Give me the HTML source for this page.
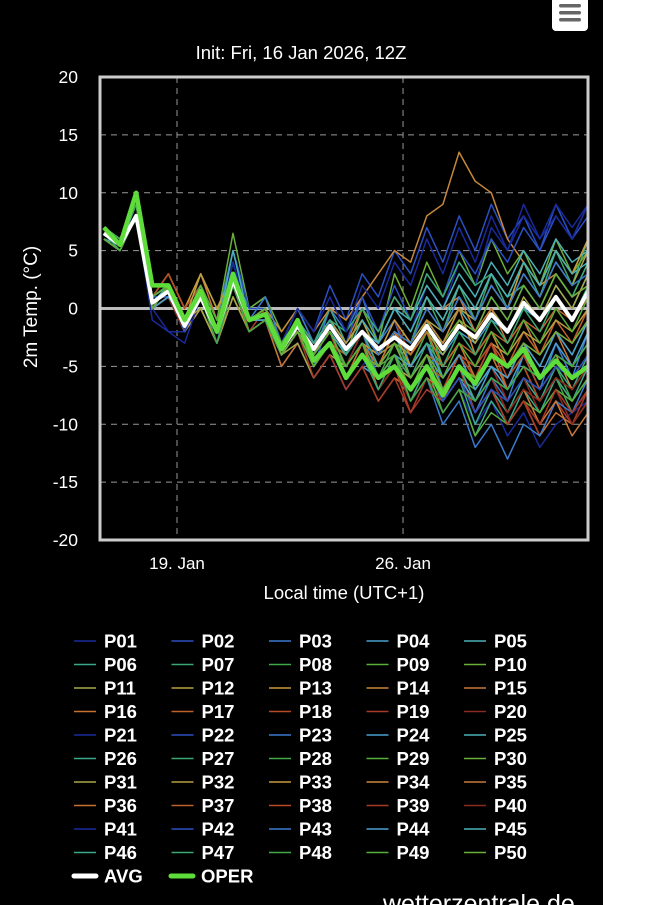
<!DOCTYPE html>
<html><head><meta charset="utf-8"><style>
html,body{margin:0;padding:0;background:#fff;}
body{width:648px;height:905px;overflow:hidden;position:relative;font-family:"Liberation Sans",sans-serif;}
#bg{position:absolute;left:0;top:0;width:603px;height:905px;background:#000;}
</style></head><body>
<div id="bg"></div>
<svg id="chart" width="648" height="905" style="position:absolute;left:0;top:0">
<g>
<rect x="552" y="-6" width="36" height="37" rx="4" fill="#fff"/>
<rect x="559" y="4" width="22" height="3.5" rx="1.7" fill="#666"/>
<rect x="559" y="11" width="22" height="3.5" rx="1.7" fill="#666"/>
<rect x="559" y="18" width="22" height="3.5" rx="1.7" fill="#666"/>
</g>
<text x="301" y="59" fill="#fff" font-size="18.5" text-anchor="middle">Init: Fri, 16 Jan 2026, 12Z</text>
<text transform="translate(37,307) rotate(-90)" fill="#fff" font-size="19" text-anchor="middle">2m Temp. (°C)</text>
<text x="344" y="599" fill="#fff" font-size="18.5" text-anchor="middle">Local time (UTC+1)</text>
<g id="grid"></g>
<g id="yticks"></g>
<g id="xticks"></g>
<defs><clipPath id="clip"><rect x="100" y="77" width="488" height="463"/></clipPath></defs>
<g id="series" clip-path="url(#clip)"></g>
<rect x="100" y="77" width="488" height="463" fill="none" stroke="#ccc" stroke-width="3"/>
<g id="legend"></g>
<text x="383" y="912" fill="#fff" font-size="25">wetterzentrale.de</text>
</svg>
<script>
const yTicks=[20,15,10,5,0,-5,-10,-15,-20];
const xTickDays=[3.125,10.125];
const xTickLabels=["19. Jan","26. Jan"];
const avg=[6.5,5.5,8,0.5,1.5,-1.5,1,-2,2.5,-1,-0.5,-3.5,-1.5,-3.5,-1.5,-3.5,-2,-3.5,-2.5,-3.5,-1.5,-3.5,-1.5,-2.5,-0.5,-2,0.5,-1,1,-1,1.5];
const oper=[7,5.5,10,2,2,-1,1.5,-2,3,-1,-0.5,-3.5,-1,-4.5,-3,-6,-4,-6,-5,-7,-5,-7.5,-5,-6.5,-4,-5,-3.5,-6,-4.5,-6,-5];
const members=[
[6,5,8,0,-2,-2,0,-3,2,-2,-1,-4,-2,-5,-3,-6,-4,-7,-5,-8,-6,-9,-7,-10,-8,-11,-9,-12,-10,-9,-8],
[7,6,9,1,2,-1,1,-2,3,-1,0,-3,0,-2,2,-1,3,1,5,3,7,4,8,5,9,6,8,5,9,6,9],
[6.5,5,8,0,1,-2,2,-1,5,0,1,-3,-1,-4,0,-2,1,-3,-1,-5,-3,-7,-5,-9,-6,-8,-4,-7,-3,-6,-2],
[7,6,8,1,2,-1,1,-3,2,-1,-1,-5,-3,-6,-4,-7,-5,-6,-4,-5,-3,-4,-2,-3,-1,-2,0,-1,2,0,3],
[6,5.5,9,0.5,2,-2,1,-2,4,-1,0,-4,-2,-4,-2,-5,-3,-5,-2,-4,-1,-3,0,-2,1,-1,2,0,3,1,4],
[7,6,9,1,1,-2,1,-2,2,-2,-1,-4,-1,-3,0,-3,-1,-4,-2,-6,-4,-8,-6,-10,-7,-9,-6,-8,-5,-7,-4],
[6,5,8,0,2,-1,2,-1,3,0,0,-3,-1,-4,-2,-5,-2,-4,-1,-3,1,-2,2,-1,3,0,4,1,5,2,6],
[6.5,5.5,8,1,2,-1,1,-2,3,-1,-1,-4,-2,-5,-3,-6,-3,-5,-2,-4,-1,-5,-3,-6,-4,-7,-5,-8,-6,-9,-7],
[7,6,9,1,2,-1,0,-3,2,-2,-1,-4,-1,-3,-1,-4,-2,-5,-4,-7,-5,-8,-6,-7,-5,-6,-3,-5,-2,-4,-1],
[6,5,8,1,3,0,2,-1,6.5,0,1,-2,0,-3,-1,-4,0,-3,3,0,4,1,5,2,6,3,5,2,6,3,5],
[6.5,5.5,8,0,1,-1,1,-2,2,-1,0,-3,-1,-3,-1,-3,-1,-4,-3,-5,-2,-4,-1,-3,0,-2,1,-1,2,0,3],
[6,5,8,0,1,-2,0,-3,1,-2,-1,-4,-2,-5,-3,-4,-2,-3,0,-2,1,-1,2,0,3,1,4,2,5,3,6],
[7,6,9,1,3,0,3,0,2,-1,0,-3,-2,-5,-3,-6,-4,-7,-5,-6,-4,-7,-5,-6,-4,-5,-3,-4,-2,-3,-1],
[6.5,5,8,1,2,-1,1,-2,2,-1,0,-2,0,-2,0,-1,1,3,5,4,8,9,13.5,11,10,6,4,2,3,1,2],
[6,5,8,0,2,-1,3,-1,2,-2,-1,-4,-2,-4,-1,-3,0,-2,1,-1,2,0,1,-2,0,-3,-1,-4,-2,-5,-3],
[7,6,9,1,2,-2,1,-3,1,-2,-1,-5,-3,-6,-4,-7,-5,-8,-6,-7,-5,-8,-6,-9,-7,-10,-8,-11,-9,-10,-8],
[6,5,8,0,1,-2,2,-2,3,-1,0,-3,-1,-3,-2,-4,-2,-5,-3,-6,-4,-7,-4,-6,-3,-5,-2,-4,-1,-3,0],
[6.5,5.5,8,1,3,0,2,-1,3,-2,-1,-4,-2,-5,-3,-5,-3,-6,-4,-8,-5,-7,-4,-6,-3,-7,-5,-8,-6,-8,-6],
[7,6,9,0,2,-1,1,-3,2,-2,0,-3,-1,-4,-2,-6,-4,-7,-5,-9,-6,-8,-5,-9,-7,-10,-8,-11,-8,-10,-7],
[6,5,8,1,2,-1,1,-2,2,-1,-1,-4,-2,-5,-3,-5,-2,-4,-1,-4,-2,-6,-4,-7,-5,-8,-6,-9,-7,-10,-8],
[6.5,5,8,-1,-2,-3,1,-2,4,-1,-1,-4,-3,-6,-4,-7,-5,-3,0,-2,2,0,4,2,7,5,8,6,9,7,9],
[7,6,9,1,1,-2,1,-2,5,0,0,-4,-2,-5,-1,-3,1,-2,2,-1,3,1,5,3,6,4,7,5,8,6,8],
[6,5,8,0,2,-1,2,-2,3,-1,1,-3,0,-3,-1,-4,-2,-6,-4,-8,-6,-10,-8,-12,-10,-13,-10,-11,-8,-9,-6],
[7,6,8,1,2,-1,1,-2,2,-2,-1,-4,-2,-4,-2,-5,-3,-6,-4,-7,-5,-8,-6,-8,-5,-7,-4,-6,-3,-5,-2],
[6.5,5.5,9,0,2,-2,1,-2,3,-1,-1,-3,-1,-4,-2,-4,-2,-3,0,-1,2,0,3,1,4,2,5,3,6,4,5],
[6,5,8,1,2,-1,1,-2,3,-1,0,-4,-2,-5,-3,-6,-4,-7,-5,-8,-5,-9,-7,-11,-8,-10,-7,-9,-6,-8,-5],
[7,6,9,1,2,-1,2,-1,3,-1,0,-3,-1,-3,-1,-2,0,-2,1,-1,3,1,4,2,3,1,2,0,3,1,4],
[6.5,5,8,0,1,-2,1,-3,2,-2,-1,-4,-2,-5,-3,-6,-4,-6,-3,-5,-2,-6,-4,-7,-5,-6,-4,-7,-5,-8,-6],
[6,5,8,0,2,-1,1,-2,3,-1,0,-3,-1,-4,-2,-5,-3,-6,-4,-7,-5,-9,-7,-11,-9,-10,-8,-9,-7,-8,-6],
[7,6,9,1,2,-1,1,-2,2,-1,0,-3,-2,-5,-3,-4,-2,-5,-3,-4,-2,-3,-1,-2,1,-1,2,0,3,1,2],
[6.5,5.5,8,1,2,-1,0,-3,1,-2,-1,-4,-3,-6,-4,-5,-3,-4,-2,-3,-1,-2,0,-1,2,0,3,1,4,2,5],
[6,5,8,0,2,-1,3,0,3,-1,0,-3,-1,-3,-1,-3,-1,-4,-2,-5,-3,-6,-4,-5,-3,-4,-2,-3,-1,-2,0],
[7,6,9,1,2,-2,1,-2,2,-2,-1,-4,-2,-4,-2,-5,-3,-4,-1,-3,0,-2,1,-1,2,0,4,2,5,3,6],
[6.5,5,8,0,1,-1,2,-2,3,-1,-1,-4,-2,-5,-3,-6,-4,-5,-2,-4,-1,-3,0,-4,-2,-5,-3,-6,-4,-7,-5],
[6,5,8,1,2,-1,1,-3,2,-1,0,-3,-1,-4,-2,-5,-3,-7,-5,-8,-6,-7,-5,-8,-6,-9,-7,-10,-8,-11,-9],
[7,6,9,0,2,-1,2,-2,3,-1,0,-4,-2,-5,-3,-6,-3,-5,-2,-4,-2,-5,-3,-6,-4,-7,-5,-6,-4,-5,-3],
[6,5,8,1,2,-1,1,-2,2,-2,-1,-4,-2,-5,-3,-4,-2,-5,-3,-6,-4,-5,-3,-4,-2,-3,-1,-2,0,-1,1],
[6.5,5.5,8,0,2,-2,1,-2,3,-1,0,-3,-1,-4,-2,-5,-3,-6,-4,-7,-5,-6,-4,-5,-3,-6,-4,-7,-5,-6,-4],
[7,6,9,1,2,-1,1,-3,2,-2,-1,-4,-2,-6,-4,-7,-5,-8,-6,-9,-7,-8,-6,-9,-7,-10,-8,-10,-7,-9,-7],
[6,5,8,0,1,-2,1,-2,2,-1,0,-4,-2,-5,-3,-6,-4,-7,-5,-8,-6,-9,-7,-8,-6,-9,-7,-8,-6,-7,-5],
[6.5,5,8,0,2,-1,2,-2,4,-1,0,-3,0,-2,1,-2,2,0,4,2,6,3,7,4,8,5,9,6,8,6,9],
[7,6,9,1,2,-2,1,-3,3,-1,0,-4,-2,-5,-3,-5,-3,-6,-4,-7,-5,-8,-6,-9,-7,-8,-6,-7,-5,-6,-4],
[6,5,8,1,2,-1,1,-2,3,-1,0,-3,-1,-3,-1,-4,-2,-4,-2,-3,0,-2,1,-1,2,0,3,1,4,2,3],
[6.5,5.5,8,0,1,-1,1,-2,2,-1,-1,-4,-2,-5,-3,-5,-3,-6,-4,-5,-3,-6,-4,-7,-5,-6,-3,-5,-2,-4,-1],
[7,6,9,1,2,-1,2,-2,5,-1,0,-3,-1,-4,-2,-4,-1,-3,0,-2,1,-1,2,0,3,1,4,2,5,3,4],
[6,5,8,0,2,-1,1,-2,2,-1,0,-3,-1,-3,-1,-4,-2,-5,-3,-6,-4,-7,-5,-8,-6,-7,-5,-6,-4,-5,-3],
[6.5,5,8,1,2,-1,1,-2,3,-1,0,-4,-2,-5,-3,-6,-4,-7,-4,-6,-3,-5,-2,-4,-1,-3,0,-2,1,-1,2],
[7,6,9,0,2,-1,1,-3,2,-2,-1,-4,-2,-5,-3,-5,-3,-6,-4,-8,-6,-9,-7,-8,-6,-7,-5,-6,-4,-5,-3],
[6,5,8,1,2,-1,2,-1,3,-1,0,-3,-1,-4,-2,-5,-3,-6,-4,-7,-4,-6,-3,-5,-2,-4,-1,-3,0,-2,1],
[6.5,5.5,8,0,2,-1,1,-2,3,-1,0,-4,-2,-5,-3,-6,-4,-5,-3,-6,-4,-7,-5,-6,-4,-5,-3,-4,-2,-3,-1]
];
const palette=['#1a2a9a','#2a4fc0','#3a7acc','#4aa0d0','#4ab0b8','#3aa88a','#3aa870','#3fa84a','#5aae3a','#6cae3a','#a8a848','#b8a040','#c89a3a','#c8883a','#c8783a','#c8702e','#c0602a','#b84a28','#a83a28','#8a2a20'];
const NS="http://www.w3.org/2000/svg";
const X0=100,X1=588,Y0=77,Y1=540;
const PXD=32.29;
const T0=3.125-77/PXD;
function xDay(d){return X0+(d-T0)*PXD;}
function xIdx(i){return xDay(0.86+i*0.5);}
function yV(v){return Y0+(20-v)/40*(Y1-Y0);}
function mk(tag,attrs,parent){const e=document.createElementNS(NS,tag);for(const k in attrs)e.setAttribute(k,attrs[k]);parent.appendChild(e);return e;}
const grid=document.getElementById('grid'),yt=document.getElementById('yticks'),xt=document.getElementById('xticks');
yTicks.forEach(v=>{
  if(v!==20&&v!==-20){
    const l=mk('line',{x1:X0,x2:X1,y1:yV(v),y2:yV(v),stroke:v===0?'#bbb':'#999','stroke-width':v===0?3:1,'stroke-dasharray':v===0?'':'6,5'},grid);
    
    
  }
  const t=mk('text',{x:78,y:yV(v)+6,fill:'#fff','font-size':17.5,'text-anchor':'end'},yt);
  t.textContent=v;
  
  
});
xTickDays.forEach((d,i)=>{
  const l=mk('line',{x1:xDay(d),x2:xDay(d),y1:Y0,y2:Y1,stroke:'#999','stroke-width':1,'stroke-dasharray':'6,5'},grid);
  
  
  const t=mk('text',{x:xDay(d),y:569,fill:'#fff','font-size':17,'text-anchor':'middle'},xt);
  t.textContent=xTickLabels[i];
  
  
});
const sg=document.getElementById('series');
function pts(a){return a.map((v,i)=>xIdx(i).toFixed(1)+','+yV(v).toFixed(1)).join(' ');}
members.forEach((m,k)=>{
  const p=mk('polyline',{points:pts(m),fill:'none',stroke:palette[k%20],'stroke-width':1.5,'stroke-linejoin':'round'},sg);
  
  
});
const pa=mk('polyline',{points:pts(avg),fill:'none',stroke:'#fff','stroke-width':4,'stroke-linejoin':'round'},sg);


const po=mk('polyline',{points:pts(oper),fill:'none',stroke:'#5ddc3a','stroke-width':4.5,'stroke-linejoin':'round'},sg);


const lg=document.getElementById('legend');
for(let k=0;k<50;k++){
  const col=k%5,row=Math.floor(k/5);
  const x=74+col*97.5,y=641+row*23.5;
  const g=mk('g',{},lg);
  
  
  mk('line',{x1:x,x2:x+22,y1:y,y2:y,stroke:palette[k%20],'stroke-width':1.5},g);
  const t=mk('text',{x:x+30,y:y+6.5,fill:'#fff','font-size':18.5,'font-weight':'bold'},g);
  t.textContent='P'+String(k+1).padStart(2,'0');
}
[['AVG','#fff',74],['OPER','#5ddc3a',171]].forEach(([n,c,x])=>{
  const y=641+10*23.5;
  const g=mk('g',{},lg);
  
  
  mk('line',{x1:x,x2:x+22,y1:y,y2:y,stroke:c,'stroke-width':5,'stroke-linecap':'round'},g);
  const t=mk('text',{x:x+30,y:y+6.5,fill:'#fff','font-size':18.5,'font-weight':'bold'},g);
  t.textContent=n;
});
</script>
</body></html>
